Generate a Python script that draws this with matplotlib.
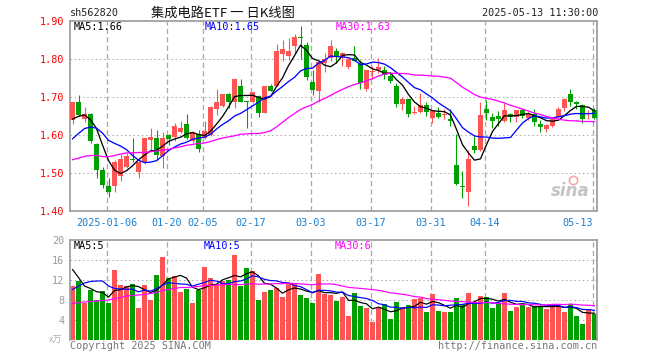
import matplotlib
matplotlib.use('Agg')
import matplotlib.pyplot as plt
import numpy as np
import pandas as pd

# ---------------- data ----------------
opens = [1.640, 1.688, 1.642, 1.656, 1.577, 1.509, 1.467, 1.465, 1.493, 1.517,
         1.538, 1.502, 1.528, 1.588, 1.592, 1.544, 1.601, 1.595, 1.609, 1.629,
         1.583, 1.603, 1.592, 1.601, 1.668, 1.677, 1.709, 1.688, 1.730, 1.689,
         1.688, 1.703, 1.659, 1.730, 1.730, 1.814, 1.807, 1.835, 1.858, 1.837,
         1.740, 1.715, 1.789, 1.803, 1.820, 1.805, 1.779, 1.803, 1.788, 1.721,
         1.765, 1.772, 1.770, 1.756, 1.730, 1.682, 1.695, 1.658, 1.660, 1.679,
         1.644, 1.657, 1.653, 1.643, 1.522, 1.465, 1.449, 1.570, 1.561, 1.668,
         1.647, 1.649, 1.636, 1.655, 1.647, 1.666, 1.645, 1.655, 1.630, 1.616,
         1.623, 1.647, 1.671, 1.709, 1.688, 1.680, 1.655, 1.666]
highs = [1.688, 1.706, 1.675, 1.658, 1.578, 1.517, 1.487, 1.535, 1.550, 1.553,
         1.592, 1.534, 1.593, 1.618, 1.614, 1.608, 1.602, 1.632, 1.636, 1.656,
         1.611, 1.612, 1.636, 1.676, 1.722, 1.709, 1.710, 1.748, 1.747, 1.690,
         1.713, 1.705, 1.730, 1.733, 1.839, 1.851, 1.855, 1.867, 1.886, 1.844,
         1.772, 1.798, 1.817, 1.851, 1.829, 1.818, 1.802, 1.835, 1.798, 1.772,
         1.781, 1.803, 1.781, 1.763, 1.738, 1.700, 1.696, 1.676, 1.711, 1.688,
         1.666, 1.674, 1.668, 1.668, 1.602, 1.504, 1.560, 1.597, 1.688, 1.693,
         1.658, 1.662, 1.684, 1.657, 1.666, 1.671, 1.660, 1.668, 1.640, 1.629,
         1.647, 1.674, 1.697, 1.720, 1.689, 1.681, 1.667, 1.671]
lows = [1.628, 1.649, 1.635, 1.580, 1.487, 1.460, 1.437, 1.450, 1.479, 1.514,
        1.528, 1.488, 1.524, 1.560, 1.535, 1.513, 1.574, 1.583, 1.605, 1.590,
        1.578, 1.554, 1.590, 1.598, 1.653, 1.675, 1.671, 1.670, 1.686, 1.618,
        1.685, 1.647, 1.658, 1.715, 1.729, 1.794, 1.798, 1.817, 1.800, 1.746,
        1.706, 1.688, 1.767, 1.795, 1.789, 1.781, 1.774, 1.794, 1.722, 1.717,
        1.747, 1.763, 1.747, 1.737, 1.675, 1.665, 1.647, 1.655, 1.658, 1.650,
        1.632, 1.646, 1.641, 1.625, 1.469, 1.434, 1.414, 1.552, 1.557, 1.640,
        1.618, 1.625, 1.635, 1.633, 1.634, 1.645, 1.640, 1.623, 1.607, 1.607,
        1.622, 1.645, 1.664, 1.676, 1.669, 1.631, 1.641, 1.642]
closes = [1.686, 1.653, 1.656, 1.583, 1.507, 1.469, 1.449, 1.530, 1.538, 1.544,
          1.534, 1.528, 1.592, 1.594, 1.548, 1.592, 1.589, 1.624, 1.618, 1.592,
          1.609, 1.563, 1.611, 1.674, 1.686, 1.709, 1.688, 1.748, 1.688, 1.687,
          1.712, 1.659, 1.728, 1.717, 1.822, 1.826, 1.820, 1.858, 1.856, 1.753,
          1.719, 1.791, 1.800, 1.835, 1.805, 1.817, 1.800, 1.796, 1.737, 1.770,
          1.767, 1.779, 1.759, 1.741, 1.682, 1.695, 1.656, 1.660, 1.680, 1.661,
          1.663, 1.648, 1.655, 1.636, 1.472, 1.462, 1.538, 1.561, 1.653, 1.658,
          1.636, 1.642, 1.665, 1.648, 1.665, 1.649, 1.656, 1.635, 1.622, 1.627,
          1.642, 1.669, 1.696, 1.688, 1.681, 1.642, 1.659, 1.646]
volumes = [10.8, 11.9, 7.5, 10.1, 8.0, 9.9, 7.4, 14.0, 11.0, 10.8,
           11.2, 6.4, 11.0, 8.0, 13.0, 16.6, 12.5, 12.8, 9.7, 10.3,
           7.5, 10.1, 14.6, 12.4, 11.2, 11.9, 12.1, 17.0, 10.9, 14.4,
           13.8, 8.0, 9.6, 10.0, 10.5, 8.7, 11.4, 11.4, 9.0, 8.4,
           7.4, 13.2, 9.3, 9.0, 7.8, 8.7, 4.8, 9.4, 6.8, 6.5,
           3.7, 6.5, 7.2, 4.3, 7.6, 6.5, 7.0, 8.2, 8.5, 5.6,
           9.2, 5.8, 5.6, 5.6, 8.4, 7.3, 9.4, 7.6, 8.8, 8.6,
           6.4, 7.5, 9.4, 5.8, 6.6, 7.0, 6.6, 6.8, 6.6, 6.3,
           7.2, 6.8, 5.6, 7.2, 4.8, 3.2, 6.3, 5.2]

# moving-average values for the first days (window not full)
ma5_head = [1.642, 1.649, 1.653, 1.640]
ma10_head = [1.590, 1.604, 1.617, 1.621, 1.618, 1.605, 1.586, 1.578, 1.571]
ma30_head = [1.535, 1.539, 1.544, 1.546, 1.546, 1.543, 1.543, 1.546, 1.550, 1.553,
             1.553, 1.554, 1.554, 1.556, 1.558, 1.560, 1.562, 1.566, 1.569, 1.573,
             1.575, 1.578, 1.579, 1.583, 1.588, 1.592, 1.595, 1.598, 1.602]
vma5_head = [14.1, 12.5, 10.8, 10.3]
vma10_head = [10.1, 10.8, 11.4, 11.7, 11.8, 11.8, 10.8, 10.3, 10.2]
vma30_head = [7.3, 7.5, 7.6, 7.7, 7.8, 7.9, 8.0, 8.3, 8.5, 8.8,
              8.9, 9.0, 9.1, 9.3, 9.5, 9.9, 10.1, 10.3, 10.5, 10.5,
              10.6, 10.7, 10.9, 10.9, 11.0, 11.1, 11.1, 11.1, 11.1]

date_index = [6, 16, 22, 30, 40, 50, 60, 69, 87]
date_labels = ['2025-01-06', '01-20', '02-05', '02-17', '03-03', '03-17', '03-31', '04-14', '05-13']
vol_grid_dates = ['2025-01-06', '01-20', '02-17', '03-03', '03-17', '03-31', '04-14', '05-13']
price_ticks = [1.40, 1.50, 1.60, 1.70, 1.80, 1.90]
vol_ticks = [4, 8, 12, 16, 20]

# ---------------- helpers ----------------
def with_head(series, window, head):
    s = pd.Series(series).rolling(window).mean().to_numpy()
    s[:len(head)] = head
    return s

o = np.array(opens); h = np.array(highs); l = np.array(lows); c = np.array(closes)
v = np.array(volumes)
n = len(c)
x = np.arange(n)
up = c >= o
RED = '#ff5454'
GREEN = '#00a000'
cols = np.where(up, RED, GREEN)

W, H = 660, 360
fig = plt.figure(figsize=(6.6, 3.6), dpi=100)
fig.patch.set_facecolor('white')

def rect(left, top, right, bottom):
    return [left / W, 1 - bottom / H, (right - left) / W, (bottom - top) / H]

ax = fig.add_axes(rect(70, 21, 597, 211))
axv = fig.add_axes(rect(70, 240, 597, 340))

MONO = 'DejaVu Sans Mono'
FRAME = '#a0a0a0'
GRID = '#a8a8a8'
PX = 0.72  # one pixel in points

xl = (-0.42, n - 0.58)
date_pos = [i - 0.33 for i in date_index]

# ---------- price panel ----------
ax.set_xlim(*xl)
ax.set_ylim(1.40, 1.90)
for yv in price_ticks[1:-1]:
    ax.axhline(yv, color=GRID, lw=PX, linestyle=(0, (1.4, 2.8)), zorder=0)
for xp in date_pos:
    ax.axvline(xp, color=GRID, lw=PX * 1.3, linestyle=(0, (4, 2.5)), zorder=0)

ax.vlines(x, l, h, colors=cols, lw=PX * 1.1, zorder=2)
body_h = np.maximum(np.abs(c - o), 0.0026)
ax.bar(x, body_h, bottom=np.minimum(o, c), width=0.78, color=cols, zorder=3, linewidth=0)

ma5 = with_head(closes, 5, ma5_head)
ma10 = with_head(closes, 10, ma10_head)
ma30 = with_head(closes, 30, ma30_head)
ax.plot(x, ma5, color='black', lw=PX * 1.3, zorder=4)
ax.plot(x, ma10, color='#0000ff', lw=PX * 1.3, zorder=4)
ax.plot(x, ma30, color='#ff00ff', lw=PX * 1.3, zorder=4)

ax.set_yticks(price_ticks)
ax.set_yticklabels(['%.2f' % t for t in price_ticks])
ax.set_xticks(date_pos)
ax.set_xticklabels(date_labels)
ax.tick_params(axis='y', length=0, pad=4, labelcolor='#ff0000', labelsize=7.3)
ax.tick_params(axis='x', length=0, pad=5, labelcolor='#1b7fcf', labelsize=7.3)
for lab in ax.get_xticklabels() + ax.get_yticklabels():
    lab.set_fontfamily(MONO)
ax.get_xticklabels()[-1].set_horizontalalignment('right')
for sp in ax.spines.values():
    sp.set_color(FRAME)
    sp.set_linewidth(1.3)

# sina watermark
ax.text(0.985, 0.06, 'sina', transform=ax.transAxes, ha='right', va='bottom',
        fontsize=12, fontweight='bold', fontstyle='italic', color='#c4c4c4', zorder=1)
ax.plot([0.955], [0.165], transform=ax.transAxes, marker='o', ms=6,
        mfc='none', mec='#f2a8a8', mew=1.2, zorder=1)

# ---------- volume panel ----------
axv.set_xlim(*xl)
axv.set_ylim(0, 20)
for yv in vol_ticks[:-1]:
    axv.axhline(yv, color=GRID, lw=PX, linestyle=(0, (1.4, 2.8)), zorder=0)
for lab, xp in zip(date_labels, date_pos):
    if lab in vol_grid_dates:
        axv.axvline(xp, color=GRID, lw=PX * 1.3, linestyle=(0, (4, 2.5)), zorder=0)
axv.bar(x, v, width=0.78, color=cols, zorder=2, linewidth=0)
vma5 = with_head(volumes, 5, vma5_head)
vma10 = with_head(volumes, 10, vma10_head)
vma30 = with_head(volumes, 30, vma30_head)
axv.plot(x, vma5, color='black', lw=PX * 1.2, zorder=3)
axv.plot(x, vma10, color='#0000ff', lw=PX * 1.2, zorder=3)
axv.plot(x, vma30, color='#ff00ff', lw=PX * 1.2, zorder=3)
axv.set_yticks(vol_ticks)
axv.set_yticklabels([str(t) for t in vol_ticks])
axv.set_xticks([])
axv.tick_params(axis='y', length=0, pad=4, labelcolor='#9a9a9a', labelsize=7.3)
for lab in axv.get_yticklabels():
    lab.set_fontfamily(MONO)
for name, sp in axv.spines.items():
    sp.set_color(FRAME)
    sp.set_linewidth(1.3)
axv.spines['bottom'].set_visible(False)

# ---------- texts ----------
def ftext(px, py, s, **kw):
    fig.text(px / W, 1 - py / H, s, va='center', **kw)

ftext(70, 13, 'sh562820', family=MONO, fontsize=7.3, color='#222222')
ftext(151, 13, '集成电路ETF 一 日K线图', family=['Noto Sans CJK SC', 'DejaVu Sans'],
      fontsize=9.5, color='#111111')
ftext(598, 13, '2025-05-13 11:30:00', family=MONO, fontsize=7.3, color='#222222', ha='right')

ftext(74, 27, 'MA5:1.66', family=MONO, fontsize=7.3, color='black')
ftext(205, 27, 'MA10:1.65', family=MONO, fontsize=7.3, color='#0000ff')
ftext(336, 27, 'MA30:1.63', family=MONO, fontsize=7.3, color='#ff00ff')

ftext(74, 246, 'MA5:5', family=MONO, fontsize=7.3, color='black')
ftext(204, 246, 'MA10:5', family=MONO, fontsize=7.3, color='#0000ff')
ftext(335, 246, 'MA30:6', family=MONO, fontsize=7.3, color='#ff00ff')

ftext(49, 340, 'x万', family=['Noto Sans CJK SC', 'DejaVu Sans'], fontsize=6.5, color='#b0b0b0')
ftext(70, 346, 'Copyright 2025 SINA.COM', family=MONO, fontsize=7.3, color='#777777')
ftext(597, 346, 'http://finance.sina.com.cn', family=MONO, fontsize=7.3, color='#777777', ha='right')

fig.savefig('out.png', dpi=100, facecolor='white')
